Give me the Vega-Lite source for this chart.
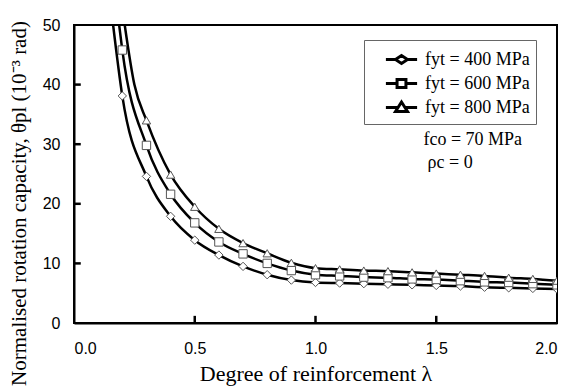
{
  "$schema": "https://vega.github.io/schema/vega-lite/v6.json",
  "width": 483,
  "height": 298,
  "autosize": {"type": "none"},
  "padding": {"left": 74, "top": 25, "right": 11, "bottom": 63},
  "background": "white",
  "config": {
    "view": {"stroke": "black", "strokeWidth": 2},
    "axis": {
      "grid": false,
      "domainColor": "black",
      "domainWidth": 2,
      "ticks": false,
      "labelFont": "Liberation Sans",
      "labelFontSize": 16,
      "labelColor": "black",
      "titleFont": "Liberation Serif",
      "titleFontWeight": "normal",
      "titleColor": "black"
    }
  },
  "datasets": {
    "curves": [
      {"series": "fyt = 400 MPa", "lambda": 0.162, "theta": 50, "marker": false},
      {"series": "fyt = 400 MPa", "lambda": 0.2, "theta": 38.1, "marker": true},
      {"series": "fyt = 400 MPa", "lambda": 0.3, "theta": 24.6, "marker": true},
      {"series": "fyt = 400 MPa", "lambda": 0.4, "theta": 17.9, "marker": true},
      {"series": "fyt = 400 MPa", "lambda": 0.5, "theta": 13.9, "marker": true},
      {"series": "fyt = 400 MPa", "lambda": 0.6, "theta": 11.4, "marker": true},
      {"series": "fyt = 400 MPa", "lambda": 0.7, "theta": 9.5, "marker": true},
      {"series": "fyt = 400 MPa", "lambda": 0.8, "theta": 8.1, "marker": true},
      {"series": "fyt = 400 MPa", "lambda": 0.9, "theta": 7.2, "marker": true},
      {"series": "fyt = 400 MPa", "lambda": 1.0, "theta": 6.8, "marker": true},
      {"series": "fyt = 400 MPa", "lambda": 1.1, "theta": 6.7, "marker": true},
      {"series": "fyt = 400 MPa", "lambda": 1.2, "theta": 6.6, "marker": true},
      {"series": "fyt = 400 MPa", "lambda": 1.3, "theta": 6.5, "marker": true},
      {"series": "fyt = 400 MPa", "lambda": 1.4, "theta": 6.4, "marker": true},
      {"series": "fyt = 400 MPa", "lambda": 1.5, "theta": 6.3, "marker": true},
      {"series": "fyt = 400 MPa", "lambda": 1.6, "theta": 6.2, "marker": true},
      {"series": "fyt = 400 MPa", "lambda": 1.7, "theta": 6.0, "marker": true},
      {"series": "fyt = 400 MPa", "lambda": 1.8, "theta": 5.9, "marker": true},
      {"series": "fyt = 400 MPa", "lambda": 1.9, "theta": 5.8, "marker": true},
      {"series": "fyt = 400 MPa", "lambda": 2.0, "theta": 5.7, "marker": true},
      {"series": "fyt = 600 MPa", "lambda": 0.187, "theta": 50, "marker": false},
      {"series": "fyt = 600 MPa", "lambda": 0.2, "theta": 45.8, "marker": true},
      {"series": "fyt = 600 MPa", "lambda": 0.3, "theta": 29.8, "marker": true},
      {"series": "fyt = 600 MPa", "lambda": 0.4, "theta": 21.6, "marker": true},
      {"series": "fyt = 600 MPa", "lambda": 0.5, "theta": 16.8, "marker": true},
      {"series": "fyt = 600 MPa", "lambda": 0.6, "theta": 13.6, "marker": true},
      {"series": "fyt = 600 MPa", "lambda": 0.7, "theta": 11.6, "marker": true},
      {"series": "fyt = 600 MPa", "lambda": 0.8, "theta": 10.0, "marker": true},
      {"series": "fyt = 600 MPa", "lambda": 0.9, "theta": 8.8, "marker": true},
      {"series": "fyt = 600 MPa", "lambda": 1.0, "theta": 8.1, "marker": true},
      {"series": "fyt = 600 MPa", "lambda": 1.1, "theta": 7.9, "marker": true},
      {"series": "fyt = 600 MPa", "lambda": 1.2, "theta": 7.7, "marker": true},
      {"series": "fyt = 600 MPa", "lambda": 1.3, "theta": 7.6, "marker": true},
      {"series": "fyt = 600 MPa", "lambda": 1.4, "theta": 7.4, "marker": true},
      {"series": "fyt = 600 MPa", "lambda": 1.5, "theta": 7.3, "marker": true},
      {"series": "fyt = 600 MPa", "lambda": 1.6, "theta": 7.1, "marker": true},
      {"series": "fyt = 600 MPa", "lambda": 1.7, "theta": 6.9, "marker": true},
      {"series": "fyt = 600 MPa", "lambda": 1.8, "theta": 6.8, "marker": true},
      {"series": "fyt = 600 MPa", "lambda": 1.9, "theta": 6.6, "marker": true},
      {"series": "fyt = 600 MPa", "lambda": 2.0, "theta": 6.4, "marker": true},
      {"series": "fyt = 800 MPa", "lambda": 0.21, "theta": 50, "marker": false},
      {"series": "fyt = 800 MPa", "lambda": 0.25, "theta": 40, "marker": false},
      {"series": "fyt = 800 MPa", "lambda": 0.3, "theta": 34.0, "marker": true},
      {"series": "fyt = 800 MPa", "lambda": 0.4, "theta": 24.9, "marker": true},
      {"series": "fyt = 800 MPa", "lambda": 0.5, "theta": 19.5, "marker": true},
      {"series": "fyt = 800 MPa", "lambda": 0.6, "theta": 15.8, "marker": true},
      {"series": "fyt = 800 MPa", "lambda": 0.7, "theta": 13.4, "marker": true},
      {"series": "fyt = 800 MPa", "lambda": 0.8, "theta": 11.7, "marker": true},
      {"series": "fyt = 800 MPa", "lambda": 0.9, "theta": 10.1, "marker": true},
      {"series": "fyt = 800 MPa", "lambda": 1.0, "theta": 9.2, "marker": true},
      {"series": "fyt = 800 MPa", "lambda": 1.1, "theta": 9.0, "marker": true},
      {"series": "fyt = 800 MPa", "lambda": 1.2, "theta": 8.8, "marker": true},
      {"series": "fyt = 800 MPa", "lambda": 1.3, "theta": 8.7, "marker": true},
      {"series": "fyt = 800 MPa", "lambda": 1.4, "theta": 8.5, "marker": true},
      {"series": "fyt = 800 MPa", "lambda": 1.5, "theta": 8.3, "marker": true},
      {"series": "fyt = 800 MPa", "lambda": 1.6, "theta": 8.1, "marker": true},
      {"series": "fyt = 800 MPa", "lambda": 1.7, "theta": 7.9, "marker": true},
      {"series": "fyt = 800 MPa", "lambda": 1.8, "theta": 7.6, "marker": true},
      {"series": "fyt = 800 MPa", "lambda": 1.9, "theta": 7.4, "marker": true},
      {"series": "fyt = 800 MPa", "lambda": 2.0, "theta": 7.1, "marker": true}
    ],
    "notes": [
      {"label": "fco = 70 MPa", "lambda": 1.447, "theta": 30.7},
      {"label": "ρc = 0", "lambda": 1.464, "theta": 26.9}
    ],
    "xticks": [{"lambda": 0.5, "theta": 0, "theta2": 1.2}, {"lambda": 1.0, "theta": 0, "theta2": 1.2}, {"lambda": 1.5, "theta": 0, "theta2": 1.2}],
    "yticks": [{"theta": 10, "lambda": 0, "lambda2": 0.028}, {"theta": 20, "lambda": 0, "lambda2": 0.028}, {"theta": 30, "lambda": 0, "lambda2": 0.028}, {"theta": 40, "lambda": 0, "lambda2": 0.028}]
  },
  "data": {"name": "curves"},
  "encoding": {
    "x": {
      "field": "lambda", "type": "quantitative",
      "scale": {"domain": [0, 2], "nice": false, "zero": false},
      "axis": {"values": [0, 0.5, 1, 1.5, 2], "format": ".1f", "labelPadding": 17, "title": "Degree of reinforcement λ", "titleFontSize": 22, "titleBaseline": "alphabetic", "titleY": 57}
    },
    "y": {
      "field": "theta", "type": "quantitative",
      "scale": {"domain": [0, 50], "nice": false},
      "axis": {"values": [0, 10, 20, 30, 40, 50], "labelPadding": 14, "title": "Normalised rotation capacity, θpl (10⁻³ rad)", "titleFontSize": 21, "titleBaseline": "alphabetic", "titleX": -49, "titleY": 178, "titleAngle": -90, "titleAlign": "center"}
    }
  },
  "layer": [
    {
      "mark": {"type": "line", "color": "black", "strokeWidth": 2.5, "interpolate": "monotone", "clip": true},
      "encoding": {"detail": {"field": "series"}}
    },
    {
      "transform": [{"filter": "datum.marker"}],
      "mark": {"type": "point", "filled": true, "fill": "white", "stroke": "#555", "strokeWidth": 1, "opacity": 1, "size": 70, "clip": true},
      "encoding": {
        "shape": {
          "field": "series", "type": "nominal",
          "scale": {"domain": ["fyt = 400 MPa", "fyt = 600 MPa", "fyt = 800 MPa"], "range": ["diamond", "square", "triangle-up"]},
          "legend": null
        }
      }
    },
    {
      "transform": [{"filter": "false"}],
      "mark": {"type": "point", "filled": true, "fill": "white", "stroke": "black", "strokeWidth": 3, "opacity": 1},
      "encoding": {
        "shape": {
          "field": "series", "type": "nominal",
          "scale": {"domain": ["fyt = 400 MPa", "fyt = 600 MPa", "fyt = 800 MPa"], "range": [
            "M-1.3,0H-0.5M0.5,0H1.3M-0.5,0L0,-0.33L0.5,0L0,0.33Z",
            "M-1.3,0H-0.37M0.37,0H1.3M-0.37,-0.33H0.37V0.33H-0.37Z",
            "M-1.3,0H-0.29M0.29,0H1.3M-0.5,0.33L0,-0.46L0.5,0.33Z"
          ]},
          "legend": {
            "orient": "none", "legendX": 290, "legendY": 15,
            "title": null,
            "strokeColor": "#666", "padding": 6,
            "symbolSize": 576, "symbolStrokeWidth": 3,
            "symbolOffset": 18, "labelOffset": 10,
            "labelFont": "Liberation Serif", "labelFontSize": 18, "labelColor": "black",
            "rowPadding": 0,
            "encode": {
              "symbols": {"update": {"fill": {"value": "white"}, "stroke": {"value": "black"}, "strokeWidth": {"value": 3}, "opacity": {"value": 1}}}
            }
          }
        }
      }
    },
    {
      "data": {"name": "notes"},
      "mark": {"type": "text", "font": "Liberation Serif", "fontSize": 18, "align": "left", "baseline": "middle", "color": "black"},
      "encoding": {"text": {"field": "label"}}
    },
    {
      "data": {"name": "xticks"},
      "mark": {"type": "rule", "color": "black", "strokeWidth": 2.5},
      "encoding": {"y2": {"field": "theta2"}}
    },
    {
      "data": {"name": "yticks"},
      "mark": {"type": "rule", "color": "black", "strokeWidth": 2.5},
      "encoding": {"x2": {"field": "lambda2"}}
    }
  ],
  "resolve": {"scale": {"shape": "independent"}}
}
